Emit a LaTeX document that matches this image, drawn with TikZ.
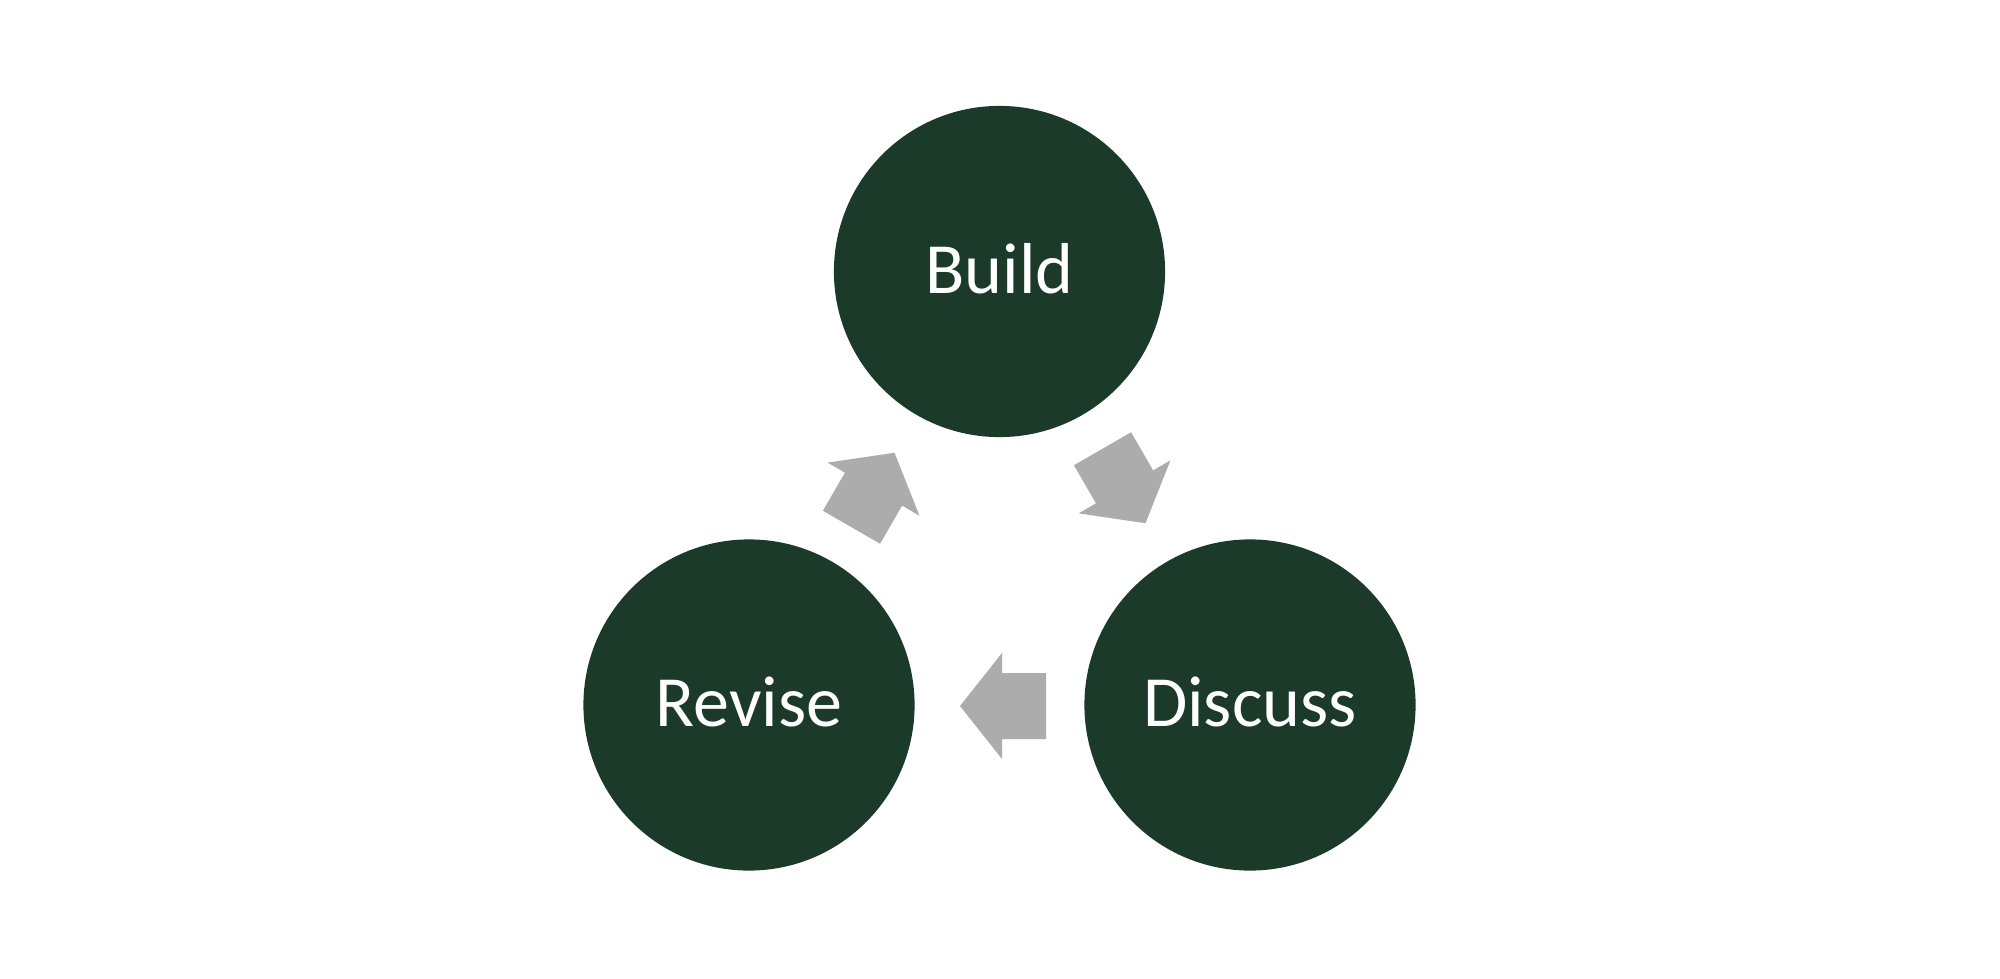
\documentclass[tikz,border=0pt]{standalone}
\usepackage{fontspec}
\setmainfont{Carlito}
\definecolor{circlegreen}{HTML}{1B3A2A}
\definecolor{arrowgrey}{HTML}{ABACAB}
\newcommand{\liftlabel}[1]{\raisebox{0.028cm}[\height][\depth]{#1}}
\tikzset{
  stage/.style={circle, fill=circlegreen, draw=none, minimum size=3.31cm, inner sep=0pt,
    text=white, font=\fontsize{20.5}{24}\selectfont},
  blockarrow/.pic={
    \fill[arrowgrey] (43,0) -- (1,53) -- (1,33) -- (-43,33) -- (-43,-33) -- (1,-33) -- (1,-53) -- cycle;
  }
}
\begin{document}
\begin{tikzpicture}[x=0.01cm,y=0.01cm]
\useasboundingbox (0,0) rectangle (2000,978);
\fill[white] (0,0) rectangle (2000,978);
\node[stage] (build) at (999.5,706.5) {\liftlabel{Build}};
\node[stage] (revise) at (749,273) {\liftlabel{Revise}};
\node[stage] (discuss) at (1250,273) {\liftlabel{Discuss}};
\pic[rotate=180] (a3) at (1003,272) {blockarrow};
\pic[rotate=60] (a1) at (873,488) {blockarrow};
\pic[rotate=-60] (a2) at (1124,492) {blockarrow};
\end{tikzpicture}
\end{document}
